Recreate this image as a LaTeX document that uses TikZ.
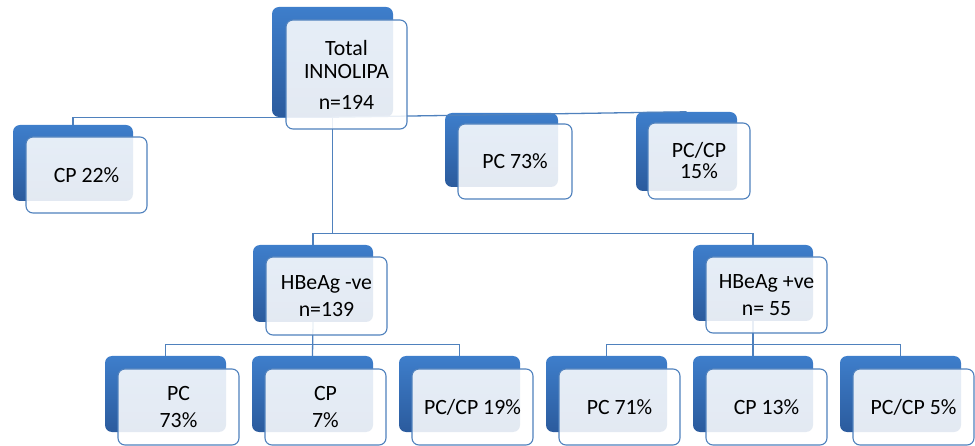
\documentclass[tikz,border=0pt]{standalone}
\usepackage{fontspec}
\setmainfont{Carlito}
\usetikzlibrary{positioning}

\definecolor{linkblue}{RGB}{79,129,189}
\definecolor{darktop}{RGB}{62,126,203}
\definecolor{darkbottom}{RGB}{43,91,157}

\begin{document}
\begin{tikzpicture}[x=1pt,y=-1pt,
  shadowbox/.style={rounded corners=7pt,top color=darktop,bottom color=darkbottom,inner sep=0pt,minimum width=121pt,minimum height=76pt},
  labelbox/.style={rounded corners=7pt,draw=linkblue,line width=1.1pt,fill=white,fill opacity=0.87,text opacity=1,
    align=center,inner sep=0pt,minimum width=121pt,minimum height=76pt,font=\fontsize{21.8}{27}\selectfont},
  link/.style={draw=linkblue,line width=1.3pt}]
\useasboundingbox (0,0) rectangle (975,446);

%back boxes
\node[shadowbox,minimum height=110pt] (totalb) at (332.5,62) {};
\node[shadowbox,minimum width=120pt] (cpb) at (73,163) {};
\node[shadowbox,minimum width=113pt,minimum height=74pt] (pcb) at (501.5,150) {};
\node[shadowbox,minimum width=101pt,minimum height=79pt] (pccpb) at (686.5,151.5) {};
\node[shadowbox,minimum width=120pt,minimum height=77pt] (negb) at (313,283.5) {};
\node[shadowbox,minimum width=120pt] (posb) at (753,283) {};
\node[shadowbox] (neg-pcb) at (165.5,394) {};
\node[shadowbox] (neg-cpb) at (312.5,394) {};
\node[shadowbox] (neg-pccpb) at (459.5,394) {};
\node[shadowbox] (pos-pcb) at (606.5,394) {};
\node[shadowbox,minimum width=120pt] (pos-cpb) at (753,394) {};
\node[shadowbox] (pos-pccpb) at (900.5,394) {};

%connectors
\draw[link] (totalb.south) -| (cpb.north);
\draw[link] (totalb.south) -- (pccpb.north);
\draw[link] (totalb.south) -- ++(0,116) coordinate (fork);
\draw[link] (negb.north) |- (fork) -| (posb.north);
\draw[link] (negb.south) -- (neg-cpb.north);
\draw[link] (neg-pcb.north) -- ++(0,-11) -| (neg-pccpb.north);
\draw[link] (posb.south) -- (pos-cpb.north);
\draw[link] (pos-pcb.north) -- ++(0,-11) -| (pos-pccpb.north);

%front boxes
\node[labelbox,minimum height=109pt,font=\fontsize{21.8}{23.5}\selectfont] (total) at (346.5,74.5) {Total\\INNOLIPA\\[7pt]n=194};
\node[labelbox] (cp) at (86.5,175) {CP 22\%};
\node[labelbox,minimum width=114pt,minimum height=75pt] (pc) at (515,161.5) {PC 73\%};
\node[labelbox,minimum width=102pt,font=\fontsize{21.8}{21}\selectfont] (pccp) at (699,161) {PC/CP\\15\%};
\node[labelbox,minimum height=78pt] (neg) at (326.5,296) {HBeAg -ve\\n=139};
\node[labelbox] (pos) at (766.5,295) {HBeAg +ve\\n= 55};
\node[labelbox] (neg-pc) at (178.5,407) {PC\\73\%};
\node[labelbox] (neg-cp) at (325.5,407) {CP\\7\%};
\node[labelbox] (neg-pccp) at (472.5,407) {PC/CP 19\%};
\node[labelbox] (pos-pc) at (619.5,407) {PC 71\%};
\node[labelbox] (pos-cp) at (766.5,407) {CP 13\%};
\node[labelbox] (pos-pccp) at (913.5,407) {PC/CP 5\%};
\end{tikzpicture}
\end{document}
